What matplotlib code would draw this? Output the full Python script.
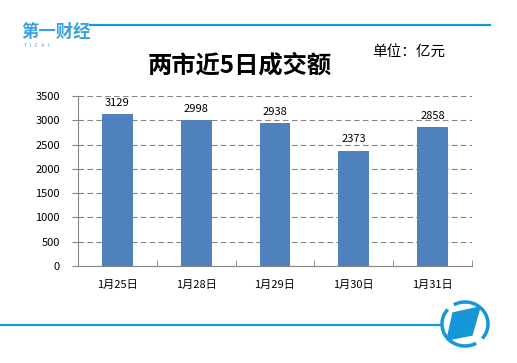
import matplotlib
matplotlib.use("Agg")
import matplotlib.pyplot as plt
from matplotlib.patches import Arc, Polygon

plt.rcParams["font.family"] = ["Noto Sans CJK SC", "DejaVu Sans"]

dates = ["1月25日", "1月28日", "1月29日", "1月30日", "1月31日"]
turnover = [3129, 2998, 2938, 2373, 2858]
y_ticks = [0, 500, 1000, 1500, 2000, 2500, 3000, 3500]

W, H = 517, 363
blue = "#1597d8"
fig = plt.figure(figsize=(W / 100, H / 100), dpi=100)

# decoration layer in pixel coordinates
deco = fig.add_axes([0, 0, 1, 1], zorder=0)
deco.set_xlim(0, W)
deco.set_ylim(H, 0)
deco.axis("off")
deco.plot([90, 490], [25, 25], color=blue, lw=1.6)
deco.plot([0, 441], [325, 325], color=blue, lw=1.6)
deco.add_patch(Arc((465, 324), 46, 44, theta1=60, theta2=220, color=blue, lw=2.5))
deco.add_patch(Arc((465, 324), 46, 44, theta1=240, theta2=40, color=blue, lw=2.5))
deco.add_patch(Polygon([(453, 313), (480, 307), (472, 335), (447, 340)],
                       closed=True, color=blue))
deco.text(21, 32, "第一财经", fontsize=12.5, fontweight="bold", color="#3aa3dd",
          va="center", ha="left")
deco.text(24, 45.5, "Y   I   C   A   I", fontsize=3.5, color="#3aa3dd", va="center")
deco.text(240, 66, "两市近5日成交额", fontsize=17.5, fontweight="bold",
          ha="center", va="center")
deco.text(372, 52, "单位：亿元", fontsize=10.5, ha="left", va="center")

# chart
ax = fig.add_axes([78 / W, 1 - 266 / H, 394 / W, 170 / H], zorder=1)
ax.patch.set_alpha(0)
x = range(len(dates))
ax.bar(x, turnover, width=0.39, color="#4f81bd", zorder=2)
for i, v in zip(x, turnover):
    ax.text(i, v + 130, str(v), ha="center", va="bottom", fontsize=8)

ax.set_xlim(-0.5, len(dates) - 0.5)
ax.set_ylim(0, 3500)
ax.set_yticks(y_ticks)
ax.set_yticklabels([str(t) for t in y_ticks], fontsize=8)
ax.set_xticks(list(x))
ax.set_xticklabels(dates, fontsize=8)
ax.set_xticks([i - 0.5 for i in range(len(dates) + 1)], minor=True)
ax.tick_params(axis="x", which="major", length=0, pad=10)
ax.tick_params(axis="x", which="minor", length=4, color="#868686", direction="in")
ax.tick_params(axis="y", length=4, color="#868686", pad=9)
ax.yaxis.grid(True, linestyle=(0, (5, 3)), color="#868686", lw=0.8)
for s in ["top", "right"]:
    ax.spines[s].set_visible(False)
for s in ["left", "bottom"]:
    ax.spines[s].set_color("#868686")

fig.savefig("out.png", dpi=100)
